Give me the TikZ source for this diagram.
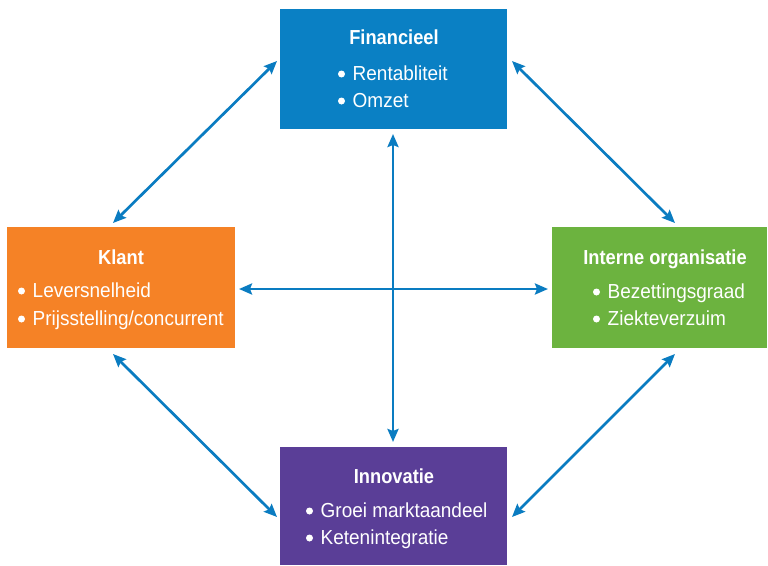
\documentclass[tikz,border=0pt]{standalone}
\usepackage{fontspec}
\setmainfont{Liberation Sans}[FakeStretch=0.9]
\newfontfamily\itemfont{Liberation Sans}[FakeStretch=0.935]
\usetikzlibrary{arrows.meta}
\definecolor{finblue}{HTML}{0A80C4}
\definecolor{klorange}{HTML}{F58226}
\definecolor{intgreen}{HTML}{6CB33F}
\definecolor{innpurple}{HTML}{5A3E97}
\definecolor{arrblue}{HTML}{0A7CC1}
\newcommand{\bulmark}{\makebox[15.5pt][l]{\hspace{0.8pt}\tikz[baseline=0pt]\fill[white] (3.5pt,6pt) circle (3.5pt);}}
\tikzset{
  box/.style={draw=none, inner sep=0pt, outer sep=0pt},
  head/.style={font=\fontsize{20.3}{24}\selectfont\bfseries, text=white, inner sep=0pt, anchor=base},
  item/.style={font=\itemfont\fontsize{20.3}{24}\selectfont, text=white, inner sep=0pt, anchor=base west},
  conn/.style={draw=arrblue, line width=2.7pt,
    {Stealth[length=13pt,width=11pt,inset=2pt]}-{Stealth[length=13pt,width=11pt,inset=2pt]}}
}
\begin{document}
\begin{tikzpicture}[x=1pt,y=-1pt]
\useasboundingbox (0,0) rectangle (768,565);
% boxes
\fill[finblue] (280,9) rectangle (507,129);
\node[box, minimum width=227pt, minimum height=120pt] (fin) at (393.5,69) {};
\fill[klorange] (7,227) rectangle (235,348);
\node[box, minimum width=228pt, minimum height=121pt] (kla) at (121,287.5) {};
\fill[intgreen] (552,227) rectangle (767,348);
\node[box, minimum width=215pt, minimum height=121pt] (int) at (659.5,287.5) {};
\fill[innpurple] (280,447) rectangle (507,565);
\node[box, minimum width=227pt, minimum height=118pt] (inn) at (393.5,506) {};
% texts
\node[head] (finh) at (394,44) {Financieel};
\node[item] (fin1) at (337,80) {\bulmark Rentabliteit};
\node[item] (fin2) at (337,107) {\bulmark Omzet};
\node[head] (klah) at (121,264) {Klant};
\node[item] (kla1) at (17,297) {\bulmark Leversnelheid};
\node[item] (kla2) at (17,325) {\bulmark Prijsstelling/concurrent};
\node[head] (inth) at (665,264) {Interne organisatie};
\node[item] (int1) at (592,298) {\bulmark Bezettingsgraad};
\node[item] (int2) at (592,325) {\bulmark Ziekteverzuim};
\node[head] (innh) at (394,483) {Innovatie};
\node[item] (inn1) at (305,517) {\bulmark Groei marktaandeel};
\node[item] (inn2) at (305,544) {\bulmark Ketenintegratie};
% connector end points
\coordinate (a1s) at (277,61);  \coordinate (a1e) at (113,223);
\coordinate (a2s) at (512,61);  \coordinate (a2e) at (675,223);
\coordinate (a3s) at (113,354); \coordinate (a3e) at (277,517);
\coordinate (a4s) at (675,354); \coordinate (a4e) at (512,517);
\coordinate (vs) at (393,134);  \coordinate (ve) at (393,442);
\coordinate (hs) at (239,289);  \coordinate (he) at (548,289);
\draw[conn] (a1s) -- (a1e);
\draw[conn] (a2s) -- (a2e);
\draw[conn] (a3s) -- (a3e);
\draw[conn] (a4s) -- (a4e);
\draw[conn] (vs) -- (ve);
\draw[conn] (hs) -- (he);
\end{tikzpicture}
\end{document}
